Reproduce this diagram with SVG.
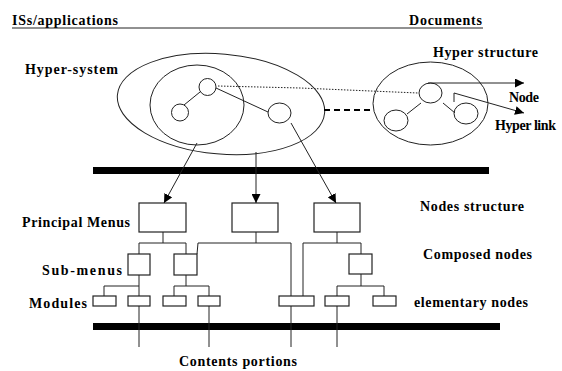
<svg xmlns="http://www.w3.org/2000/svg" width="562" height="371" viewBox="0 0 562 371">
<defs>
<style>
text{font-family:"Liberation Serif","Times New Roman",serif;font-weight:bold;font-size:14px;fill:#000}
.s{fill:none;stroke:#222;stroke-width:1}
.b{fill:#fff;stroke:#222;stroke-width:1.2}
.bar{fill:#000}
</style>
<marker id="ah" viewBox="0 0 10 10" refX="10" refY="5" markerWidth="9" markerHeight="9" markerUnits="userSpaceOnUse" orient="auto">
<path d="M0,0 L10,5 L0,10 z" fill="#000"/>
</marker>
</defs>
<rect width="562" height="371" fill="#fff"/>

<g id="labels">
<text x="12" y="25" textLength="106" lengthAdjust="spacing">ISs/applications</text>
<text x="409" y="25" textLength="73" lengthAdjust="spacing">Documents</text>
<line x1="12" y1="28" x2="483" y2="28" stroke="#222" stroke-width="1"/>
<text x="25" y="74" textLength="93" lengthAdjust="spacing">Hyper-system</text>
<text x="433" y="57" textLength="105" lengthAdjust="spacing">Hyper structure</text>
<text x="509" y="102" textLength="30" lengthAdjust="spacing">Node</text>
<text x="495" y="130" textLength="61" lengthAdjust="spacing">Hyper link</text>
<text x="22" y="227" textLength="108" lengthAdjust="spacing">Principal Menus</text>
<text x="42" y="275" textLength="80" lengthAdjust="spacing">Sub-menus</text>
<text x="29" y="308" textLength="58" lengthAdjust="spacing">Modules</text>
<text x="420" y="211" textLength="104" lengthAdjust="spacing">Nodes structure</text>
<text x="423" y="259" textLength="109" lengthAdjust="spacing">Composed nodes</text>
<text x="414" y="307" textLength="114" lengthAdjust="spacing">elementary nodes</text>
<text x="179" y="366" textLength="118" lengthAdjust="spacing">Contents portions</text>
</g>

<g id="hyper-system">
<ellipse class="s" cx="221" cy="104" rx="104" ry="50" transform="rotate(5 221 104)"/>
<ellipse class="s" cx="197" cy="105" rx="47" ry="40"/>
<circle class="s" cx="207.5" cy="87" r="8.5"/>
<circle class="s" cx="180" cy="112.5" r="8.5"/>
<ellipse class="s" cx="279.5" cy="113" rx="11.5" ry="10"/>
<line class="s" x1="184" y1="105" x2="200" y2="92"/>
<line class="s" x1="216" y1="88" x2="268" y2="112"/>
</g>

<g id="hyper-structure">
<ellipse class="s" cx="430.5" cy="103.5" rx="57.5" ry="41.5"/>
<ellipse class="s" cx="430.5" cy="93" rx="11.5" ry="10"/>
<ellipse class="s" cx="396" cy="120.5" rx="12" ry="10.5"/>
<ellipse class="s" cx="466" cy="113.5" rx="12" ry="10.5"/>
<line class="s" x1="421" y1="103" x2="407" y2="114"/>
<line class="s" x1="443" y1="103" x2="455" y2="113"/>
</g>

<g id="bars">
<rect class="bar" x="93" y="167" width="396" height="7"/>
<rect class="bar" x="93" y="323" width="407" height="7"/>
</g>

<g id="box-p1"><rect class="b" x="139" y="203" width="47" height="29"/></g>
<g id="box-p2"><rect class="b" x="232" y="203" width="46" height="29"/></g>
<g id="box-p3"><rect class="b" x="314" y="203" width="46" height="29"/></g>
<g id="box-s1"><rect class="b" x="128" y="254" width="22" height="21"/></g>
<g id="box-s2"><rect class="b" x="174" y="254" width="23" height="21"/></g>
<g id="box-s3"><rect class="b" x="349" y="254" width="23" height="20"/></g>

<g id="connectors">
<polyline class="s" points="218,86 300,88 418,93" stroke-dasharray="1.5 1.5" stroke="#555"/>
<line x1="324" y1="110" x2="373" y2="110" stroke="#000" stroke-width="2" stroke-dasharray="6 4"/>
<line class="s" x1="428" y1="83" x2="524" y2="83" marker-end="url(#ah)"/>
<polyline class="s" points="454,102 454,93 524,113" marker-end="url(#ah)"/>
<line class="s" x1="197" y1="143" x2="164" y2="203" marker-end="url(#ah)"/>
<line class="s" x1="256" y1="152" x2="256" y2="203" marker-end="url(#ah)"/>
<line class="s" x1="291" y1="123" x2="336" y2="203" marker-end="url(#ah)"/>

<polyline class="s" points="163,232 163,243"/>
<polyline class="s" points="139,254 139,243 186,243 186,254"/>
<polyline class="s" points="256,232 256,243"/>
<polyline class="s" points="197,254 198,243 291,243 291,296"/>
<polyline class="s" points="337,232 337,243"/>
<polyline class="s" points="303,296 303,243 361,243 361,254"/>

<polyline class="s" points="139,275 139,286"/>
<polyline class="s" points="104,296 104,286 139,286 139,296"/>
<polyline class="s" points="186,275 186,286"/>
<polyline class="s" points="174,296 174,286 209,286 209,296"/>
<polyline class="s" points="361,274 361,286"/>
<polyline class="s" points="337,296 337,286 384,286 384,296"/>

<line class="s" x1="139" y1="306" x2="139" y2="347"/>
<line class="s" x1="209" y1="306" x2="209" y2="347"/>
<line class="s" x1="291" y1="306" x2="291" y2="347"/>
<line class="s" x1="337" y1="306" x2="337" y2="347"/>
</g>

<g id="box-e1"><rect class="b" x="93" y="296" width="23" height="10"/></g>
<g id="box-e2"><rect class="b" x="128" y="296" width="22" height="10"/></g>
<g id="box-e3"><rect class="b" x="163" y="296" width="23" height="10"/></g>
<g id="box-e4"><rect class="b" x="198" y="296" width="22" height="10"/></g>
<g id="box-e5"><rect class="b" x="279" y="296" width="35" height="10"/></g>
<g id="box-e6"><rect class="b" x="325" y="296" width="24" height="10"/></g>
<g id="box-e7"><rect class="b" x="373" y="296" width="23" height="10"/></g>
</svg>
